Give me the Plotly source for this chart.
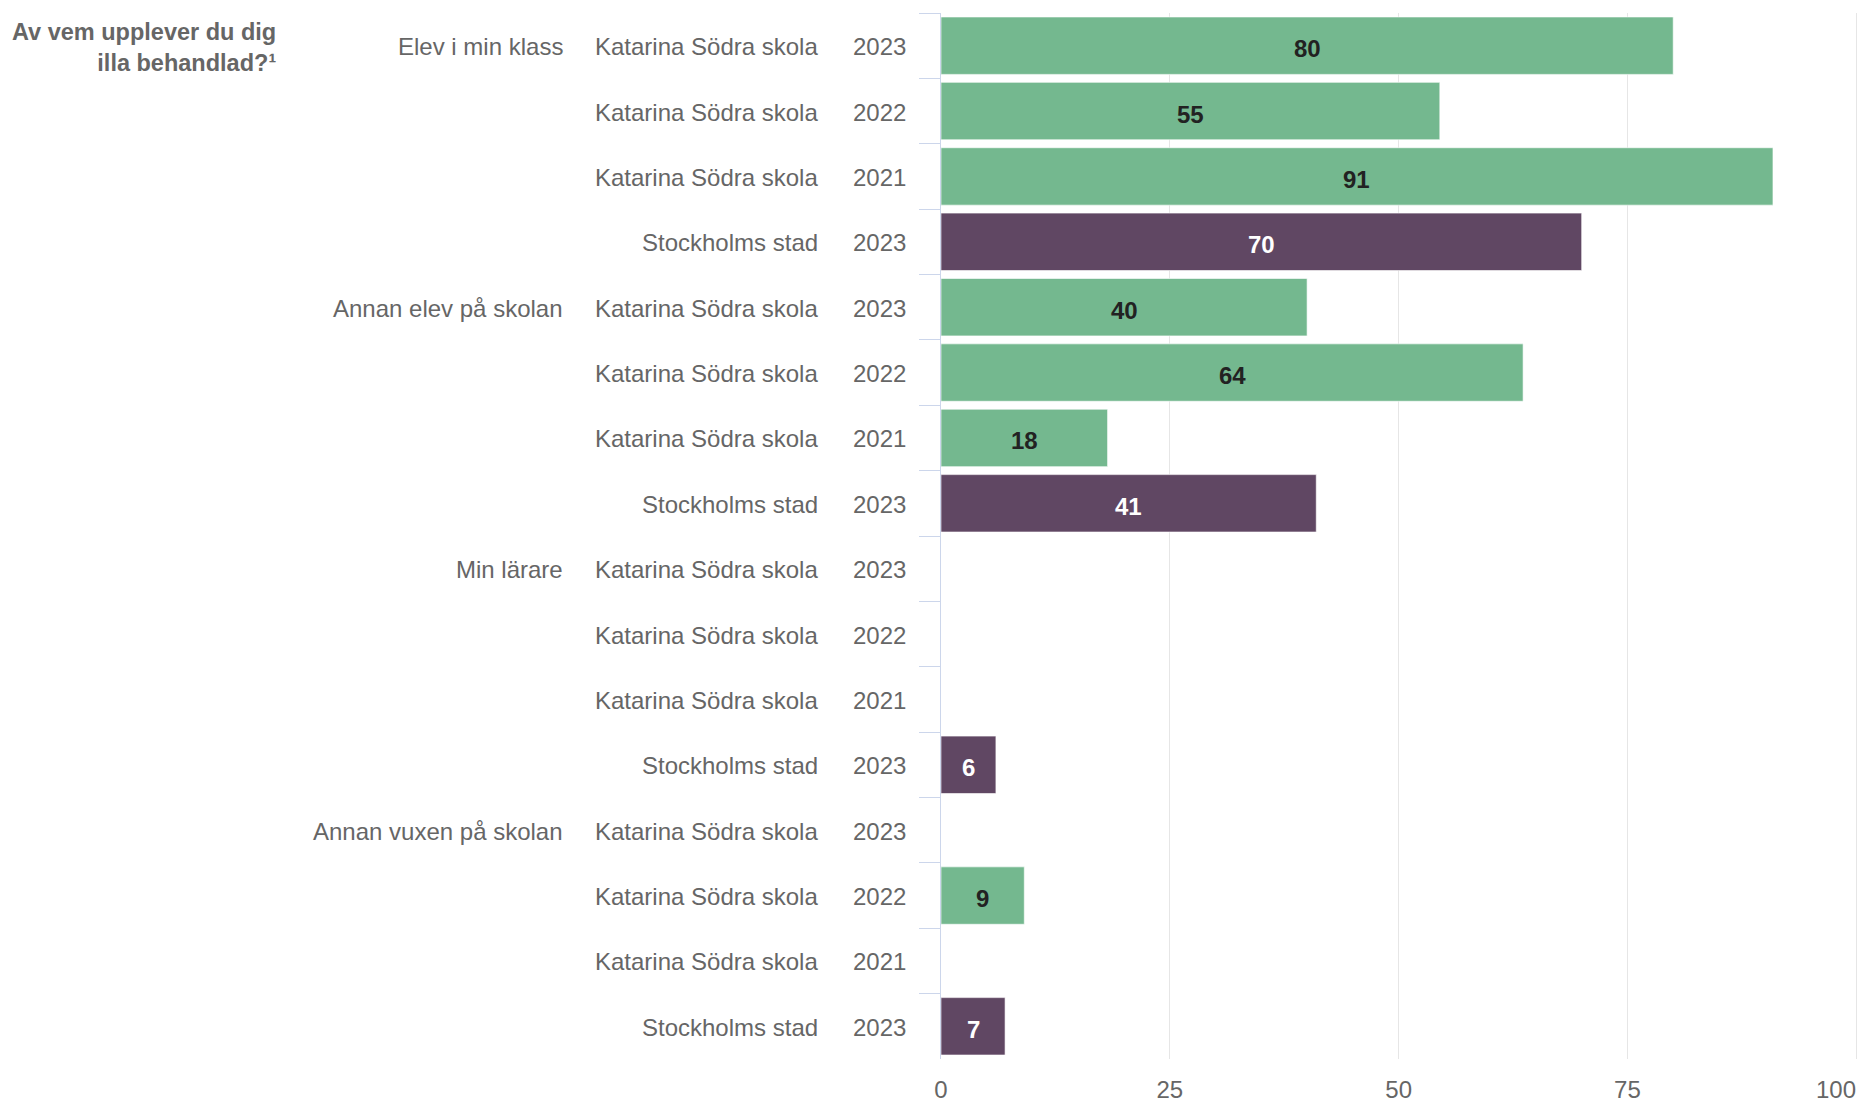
import plotly.graph_objects as go

# ---- data ----
title_text = "Av vem upplever du dig<br>illa behandlad?¹"
questions = ["Elev i min klass", "Annan elev på skolan", "Min lärare", "Annan vuxen på skolan"]
series_schools = ["Katarina Södra skola", "Katarina Södra skola", "Katarina Södra skola", "Stockholms stad"]
series_years = ["2023", "2022", "2021", "2023"]
katarina_2023 = [80, 40, None, None]
katarina_2022 = [54.5, 63.6, None, 9.1]
katarina_2021 = [90.9, 18.2, None, None]
stockholm_2023 = [70, 41, 6, 7]
series_values = [katarina_2023, katarina_2022, katarina_2021, stockholm_2023]
x_ticks = [0, 25, 50, 75, 100]

GREEN = "#74B88F"
PURPLE = "#604763"
TEXT = "#666666"
FONT = "Arial, Liberation Sans, sans-serif"
FS = 24

rows = []  # (row_id, question_label, school, year, value, is_city)
for qi, q in enumerate(questions):
    for si in range(len(series_schools)):
        rid = f"{qi}-{si}"
        rows.append((rid, q if si == 0 else "", series_schools[si], series_years[si],
                     series_values[si][qi], series_schools[si] == "Stockholms stad"))

cat_order = [r[0] for r in rows]

fig = go.Figure()
for is_city, color in [(False, GREEN), (True, PURPLE)]:
    sel = [r for r in rows if r[5] == is_city]
    fig.add_trace(go.Bar(
        orientation="h",
        y=[r[0] for r in sel],
        x=[r[4] for r in sel],
        marker=dict(color=color, line=dict(color="rgba(255,255,255,0.6)", width=1)),
        hoverinfo="skip",
        showlegend=False,
    ))

annotations = []
# data labels centred in each bar
for rid, q, school, year, val, is_city in rows:
    if val is None:
        continue
    annotations.append(dict(
        text=f"{val:.0f}" if val % 1 != 0.5 else f"{int(val) + 1}",
        xref="x", x=val / 2, yref="y", y=rid, xanchor="center", yanchor="middle",
        yshift=-3, showarrow=False,
        font=dict(family=FONT, size=FS, color="#ffffff" if is_city else "#222222", weight="bold"),
    ))

# category labels (three columns)
for rid, q, school, year, val, _ in rows:
    for txt, shift in [(year, -33.4), (school, -120.7), (q, -376)]:
        if not txt:
            continue
        annotations.append(dict(
            text=txt, xref="paper", x=0, xshift=shift, xanchor="right",
            yref="y", y=rid, yanchor="middle", yshift=-1, showarrow=False,
            font=dict(family=FONT, size=FS, color=TEXT),
        ))

annotations.append(dict(
    text="<b>" + title_text + "</b>", xref="paper", x=0, xshift=-662.7, xanchor="right",
    yref="paper", y=1, yanchor="top", yshift=-4, align="right", showarrow=False,
    font=dict(family=FONT, size=23.5, color=TEXT),
))

# last x tick label kept inside the chart, as in the reference
annotations.append(dict(
    text=str(x_ticks[-1]), xref="x", x=x_ticks[-1], xanchor="right", xshift=2,
    yref="paper", y=0, yanchor="top", yshift=-15, showarrow=False,
    font=dict(family=FONT, size=FS, color=TEXT),
))

fig.update_layout(
    template="none",
    width=1862, height=1103,
    margin=dict(l=941, r=3, t=13, b=44, autoexpand=False),
    paper_bgcolor="white", plot_bgcolor="white",
    barmode="overlay", bargap=0.122,
    annotations=annotations,
    font=dict(family=FONT, size=FS, color=TEXT),
)
fig.update_xaxes(
    range=[0, 100.3], tickvals=x_ticks,
    ticktext=[str(v) for v in x_ticks[:-1]] + [""],
    showgrid=True, gridcolor="#e6e6e6", gridwidth=1, zeroline=False, showline=False,
    ticks="outside", ticklen=9, tickcolor="rgba(0,0,0,0)", automargin=False,
    ticklabeloverflow="allow",
    tickfont=dict(family=FONT, size=FS, color=TEXT), fixedrange=True,
)
fig.update_yaxes(
    type="category", categoryorder="array", categoryarray=cat_order,
    autorange="reversed", showticklabels=False, automargin=False,
    ticks="outside", tickson="boundaries", ticklen=21, tickcolor="#ccd6eb", tickwidth=1,
    showline=True, linecolor="#ccd6eb", linewidth=1, showgrid=False, zeroline=False,
)

fig.write_html("out.html")
